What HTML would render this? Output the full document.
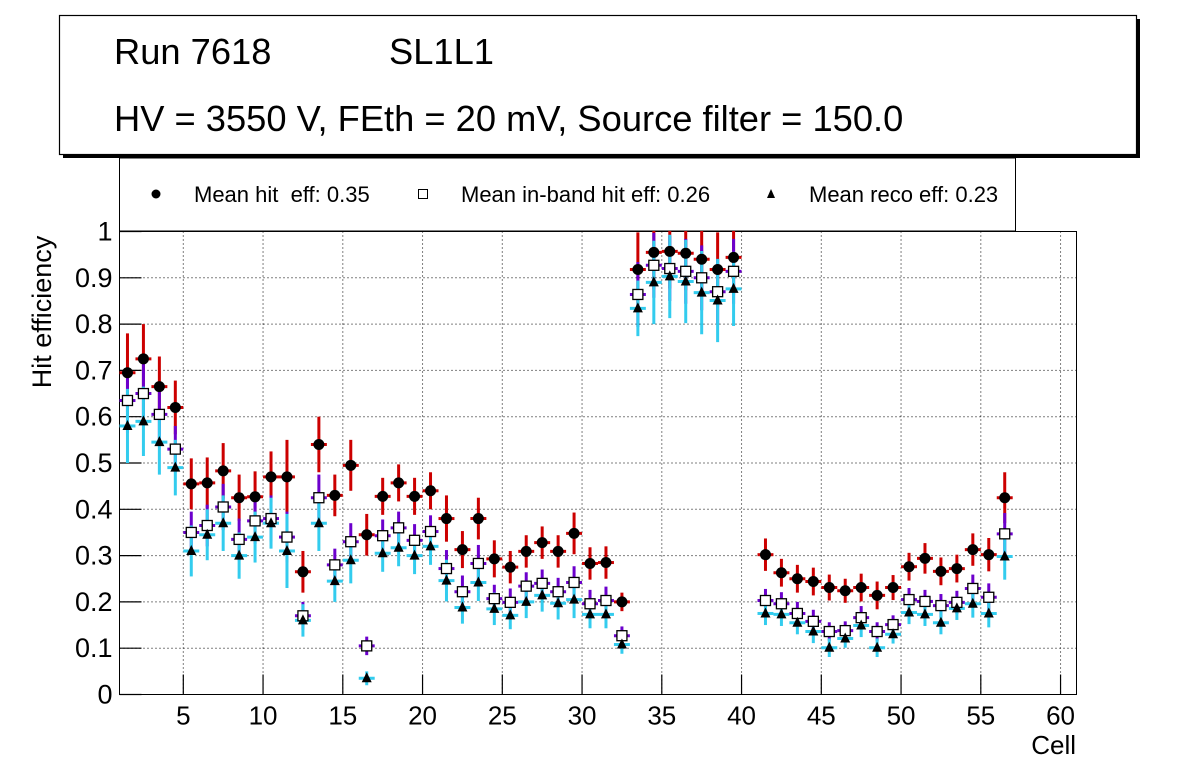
<!DOCTYPE html>
<html><head><meta charset="utf-8"><style>
body{margin:0;background:#fff;}
svg text{font-family:"Liberation Sans",sans-serif;}
</style></head><body>
<svg id="c" width="1196" height="772" xmlns="http://www.w3.org/2000/svg">
<defs><clipPath id="pc"><rect x="119" y="231" width="958" height="464"/></clipPath></defs>
<rect x="63" y="19" width="1077" height="139" fill="#000"/>
<rect x="59.5" y="15.5" width="1077" height="139" fill="#fff" stroke="#000" stroke-width="1.2"/>
<text x="114" y="64" font-size="36.3">Run 7618</text>
<text x="389" y="64" font-size="36.3">SL1L1</text>
<text x="114" y="131" font-size="36.3">HV = 3550 V, FEth = 20 mV, Source filter = 150.0</text>
<g>
<rect x="119.5" y="158" width="896" height="73" fill="#fff" stroke="#000" stroke-width="1"/>
<g><circle cx="156" cy="194" r="4.5" fill="#000"/><text x="194" y="202" font-size="22" xml:space="preserve">Mean hit  eff: 0.35</text></g>
<g><rect x="418.5" y="189.5" width="9" height="9" fill="#fff" stroke="#000"/><text x="461" y="202" font-size="22">Mean in-band hit eff: 0.26</text></g>
<g><polygon points="771,189 767,198 775,198" fill="#000"/><text x="809" y="202" font-size="22">Mean reco eff: 0.23</text></g>
</g>
<g id="plot"></g>
<text x="1076" y="754" font-size="26" text-anchor="end">Cell</text>
<text transform="translate(51,312) rotate(-90)" font-size="27" text-anchor="middle">Hit efficiency</text>
</svg>
<script>
const hitEff=[.695,.725,.665,.62,.455,.457,.483,.425,.427,.47,.47,.265,.54,.43,.495,.345,.428,.457,.428,.44,.38,.313,.38,.293,.275,.309,.328,.309,.348,.283,.285,.20,.918,.955,.957,.953,.94,.918,.944,null,.302,.263,.25,.244,.231,.224,.231,.214,.231,.276,.294,.266,.272,.313,.302,.425];
const hitErr=[.085,.075,.065,.058,.055,.055,.06,.05,.055,.055,.08,.045,.06,.045,.055,.045,.04,.04,.04,.04,.05,.04,.045,.04,.035,.035,.035,.035,.045,.035,.035,.02,.08,.08,.08,.08,.08,.08,.08,null,.035,.03,.03,.03,.028,.026,.03,.03,.027,.03,.033,.03,.03,.035,.036,.055];
const inbEff=[.635,.65,.605,.53,.35,.365,.405,.335,.375,.38,.34,.17,.425,.28,.33,.105,.343,.36,.333,.352,.272,.222,.283,.207,.199,.234,.24,.222,.242,.196,.203,.127,.864,.927,.92,.914,.9,.87,.914,null,.203,.196,.175,.158,.136,.138,.166,.136,.151,.205,.201,.192,.199,.229,.21,.347];
const inbErr=[.07,.065,.06,.05,.045,.045,.05,.045,.05,.05,.055,.03,.05,.035,.04,.02,.035,.035,.035,.035,.04,.035,.04,.03,.03,.03,.03,.03,.035,.03,.03,.02,.07,.07,.07,.07,.07,.07,.07,null,.025,.025,.025,.025,.02,.02,.025,.02,.02,.025,.025,.025,.025,.03,.03,.045];
const recoEff=[.58,.59,.545,.49,.31,.345,.37,.30,.34,.37,.31,.16,.37,.245,.29,.035,.305,.317,.30,.32,.246,.188,.242,.185,.171,.20,.214,.197,.205,.173,.173,.108,.834,.89,.903,.892,.868,.851,.876,null,.175,.173,.155,.136,.101,.121,.149,.101,.13,.177,.173,.155,.186,.196,.175,.298];
const recoErr=[.08,.075,.07,.06,.055,.055,.06,.05,.055,.055,.08,.035,.06,.045,.05,.015,.04,.04,.04,.04,.045,.035,.04,.035,.03,.035,.035,.035,.04,.03,.03,.02,.06,.09,.09,.09,.09,.09,.08,null,.025,.025,.025,.025,.02,.02,.025,.02,.02,.025,.025,.025,.025,.03,.03,.05];
const xTicks=[5,10,15,20,25,30,35,40,45,50,55,60];
const yTicks=[0,0.1,0.2,0.3,0.4,0.5,0.6,0.7,0.8,0.9,1];
const yTickLabels=["0","0.1","0.2","0.3","0.4","0.5","0.6","0.7","0.8","0.9","1"];

const L=119.5,R=1076.5,T=231.5,B=694.5,XMIN=1,XMAX=61;
const X=v=>L+(v-XMIN)/(XMAX-XMIN)*(R-L);
const Y=v=>B-v*(B-T);
const NS="http://www.w3.org/2000/svg";
const g=document.getElementById('plot');
function mk(tag,attrs,parent){const e=document.createElementNS(NS,tag);for(const k in attrs)e.setAttribute(k,attrs[k]);(parent||g).appendChild(e);return e;}

xTicks.forEach(t=>{const l=mk('line',{x1:X(t),x2:X(t),y1:T,y2:B,stroke:'#000','stroke-width':1,'stroke-dasharray':'1,3'});

});
yTicks.forEach(t=>{if(t===0||t===1)return;const l=mk('line',{x1:L,x2:R,y1:Y(t),y2:Y(t),stroke:'#000','stroke-width':1,'stroke-dasharray':'1,3'});

});
const frame=mk('rect',{x:L,y:T,width:R-L,height:B-T,fill:'none',stroke:'#000','stroke-width':1});


xTicks.forEach(t=>{const x=X(t);
const tk=mk('line',{x1:x,x2:x,y1:B,y2:B-20,stroke:'#000','stroke-width':1.2});


const tx=mk('text',{x:x,y:B+30,'font-size':26,'text-anchor':'middle'});tx.textContent=t;

});
yTicks.forEach((t,i)=>{const y=Y(t);
const tk=mk('line',{x1:L,x2:L+22,y1:y,y2:y,stroke:'#000','stroke-width':1.2});


const tx=mk('text',{x:L-7,y:y+9,'font-size':27,'text-anchor':'end'});tx.textContent=yTickLabels[i];

});

const marks=mk('g',{'clip-path':'url(#pc)'});


function errs(vals,errsArr,color,name){
 vals.forEach((v,i)=>{if(v==null)return;const c=i+1.5;const x=X(c);
  const e=mk('g',{},marks);
  
  
  mk('line',{x1:x,x2:x,y1:Y(v-errsArr[i]),y2:Y(v+errsArr[i]),stroke:color,'stroke-width':3},e);
  mk('line',{x1:X(c-0.5),x2:X(c+0.5),y1:Y(v),y2:Y(v),stroke:color,'stroke-width':3},e);
 });
}
errs(hitEff,hitErr,'#cc0000','hit-error-bar');
errs(inbEff,inbErr,'#6c00cc','inband-error-bar');
errs(recoEff,recoErr,'#33ccee','reco-error-bar');
hitEff.forEach((v,i)=>{if(v==null)return;
 const m=mk('circle',{cx:X(i+1.5),cy:Y(v),r:5.5,fill:'#000'},marks);
 
 });
inbEff.forEach((v,i)=>{if(v==null)return;
 const m=mk('rect',{x:X(i+1.5)-5,y:Y(v)-5,width:10,height:10,fill:'#fff',stroke:'#000','stroke-width':1.3},marks);
 
 });
recoEff.forEach((v,i)=>{if(v==null)return;const x=X(i+1.5),y=Y(v);
 const m=mk('polygon',{points:`${x},${y-6} ${x-5},${y+4} ${x+5},${y+4}`,fill:'#000'},marks);
 
 });
</script>
</body></html>
